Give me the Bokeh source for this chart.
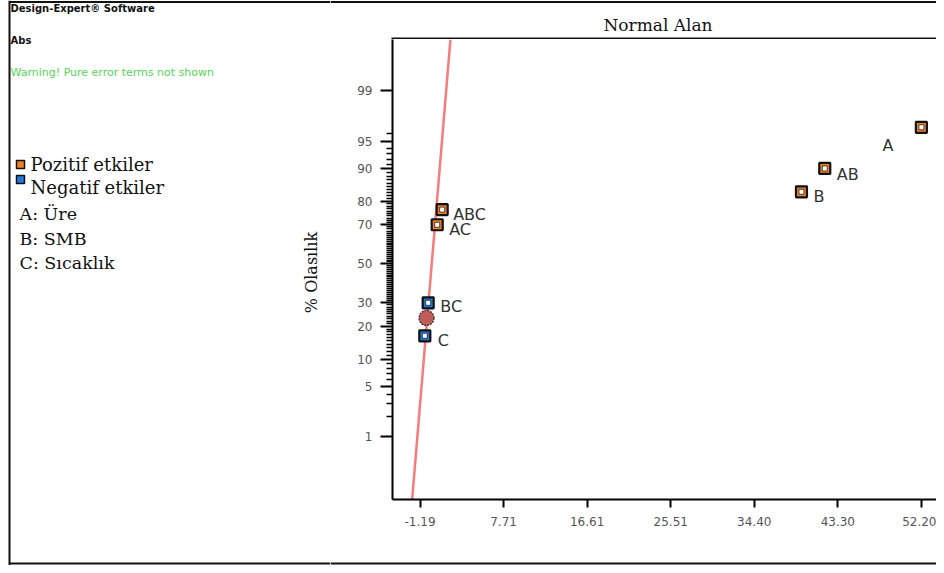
from statistics import NormalDist
import math
from bokeh.plotting import figure
from bokeh.layouts import row, column
from bokeh.models import (FixedTicker, CustomJSTickFormatter, PrintfTickFormatter, Range1d,
                          ColumnDataSource)
from bokeh.core.properties import value
from bokeh.embed import file_html
from bokeh.resources import INLINE

# ---------------- data ----------------
effect_names = ["A", "AB", "B", "ABC", "AC", "BC", "C"]
effect_values = [52.20, 41.91, 39.43, 1.17, 0.64, -0.32, -0.68]
effect_pct = [96.67, 90.0, 83.33, 76.67, 70.0, 30.0, 16.67]
effect_sign = ["pos", "pos", "pos", "pos", "pos", "neg", "neg"]
error_values = [-0.50]
error_pct = [23.33]
line_center = 0.06
line_spread = 0.66
x_tick_values = [-1.19, 7.71, 16.61, 25.51, 34.40, 43.30, 52.20]
y_tick_pct = [1, 5, 10, 20, 30, 50, 70, 80, 90, 95, 99]
y_minor_pct = [v for v in range(2, 97) if v not in y_tick_pct]
x_limits = [-4.12, 53.81]
y_limits_pct = [0.077, 99.871]
title_text = "Normal Alan"
y_label_text = "% Olasılık"
header_texts = ["Design-Expert® Software", "Abs", "Warning! Pure error terms not shown"]
legend_texts = ["Pozitif etkiler", "Negatif etkiler"]
factor_texts = ["A: Üre", "B: SMB", "C: Sıcaklık"]

# ---------------- styles / layout ----------------
ORANGE = "#f58220"
BLUE = "#1f7ae0"
INK = "#111111"
TOTAL_W, TOTAL_H = 936, 565
LEFT_W = 330          # width of the left text panel
TOP_H = 39            # height of the top strip (title)
FRAME_L = 392         # absolute x of plot frame left
FRAME_B = 499         # absolute y of plot frame bottom
MAIN_BOTTOM = 539     # absolute y where the main plot ends
MAIN_W = TOTAL_W - LEFT_W
MAIN_H = MAIN_BOTTOM - TOP_H
BOT_H = TOTAL_H - MAIN_BOTTOM
label_dx = [-39, 12, 12, 11, 12, 12, 13]
label_dy = [18, 6, 5, 5, 5, 4, 5]

nd = NormalDist()
def z_of(p):
    return nd.inv_cdf(p / 100.0)

effect_z = [z_of(v) for v in effect_pct]
error_z = [z_of(v) for v in error_pct]
z_lo, z_hi = z_of(y_limits_pct[0]), z_of(y_limits_pct[1])


def blank(w, h, x0, x1, y0, y1):
    f = figure(width=w, height=h, output_backend="svg", toolbar_location=None,
               x_range=Range1d(x0, x1), y_range=Range1d(y0, y1),
               x_axis_type=None, y_axis_type=None,
               min_border_left=0, min_border_right=0, min_border_top=0, min_border_bottom=0,
               outline_line_color=None, background_fill_color="white",
               border_fill_color="white", frame_align=False)
    f.grid.visible = False
    return f


def put_text(f, t, x, y, font, size, color=INK, style="normal", align="left", angle=0.0):
    f.text(x=[x], y=[y], text=[t], text_font=value(font), text_font_size=value(size),
           text_color=color, text_font_style=value(style), text_align=value(align),
           text_baseline=value("middle"), angle=angle)


# ---------------- left panel (header, legend, y label) ----------------
left = blank(LEFT_W, TOTAL_H, 0, LEFT_W, TOTAL_H, 0)
left.line(x=[9, 9], y=[0, TOTAL_H], line_color=INK, line_width=2)
left.line(x=[9, LEFT_W], y=[1.5, 1.5], line_color=INK, line_width=2)
left.line(x=[9, LEFT_W], y=[TOTAL_H - 2, TOTAL_H - 2], line_color=INK, line_width=2)

put_text(left, header_texts[0], 10, 8, "DejaVu Sans", "10px", "#111111", "bold")
put_text(left, header_texts[1], 10, 40, "DejaVu Sans", "10px", "#111111", "bold")
put_text(left, header_texts[2], 10, 72, "DejaVu Sans", "11px", "#55d655")

left.scatter(x=[20, 20], y=[164, 179], marker="square", size=8,
             fill_color=[ORANGE, BLUE], line_color=INK, line_width=1.5)
put_text(left, legend_texts[0], 30, 164, "DejaVu Serif", "18px")
put_text(left, legend_texts[1], 30, 187, "DejaVu Serif", "18px")
for t, cy in zip(factor_texts, [213, 238, 262]):
    put_text(left, t, 19, cy, "DejaVu Serif", "17.5px")

put_text(left, y_label_text, 310.5, 272, "DejaVu Serif", "16px", align="center",
         angle=math.pi / 2)

# ---------------- top strip (border + title + frame top) ----------------
top = blank(MAIN_W, TOP_H, LEFT_W, TOTAL_W, TOP_H, 0)
top.line(x=[LEFT_W, TOTAL_W], y=[1.5, 1.5], line_color=INK, line_width=2)
top.line(x=[FRAME_L - 1, TOTAL_W], y=[38, 38], line_color=INK, line_width=2)
put_text(top, title_text, 657.5, 24, "DejaVu Serif", "17px", align="center")

# ---------------- bottom strip (outer border) ----------------
bottom = blank(MAIN_W, BOT_H, LEFT_W, TOTAL_W, TOTAL_H, MAIN_BOTTOM)
bottom.line(x=[LEFT_W, TOTAL_W], y=[TOTAL_H - 2, TOTAL_H - 2], line_color=INK, line_width=2)

# ---------------- main normal-probability plot ----------------
p = figure(width=MAIN_W, height=MAIN_H, output_backend="svg", toolbar_location=None,
           x_range=Range1d(*x_limits), y_range=Range1d(z_lo, z_hi),
           min_border_left=FRAME_L - LEFT_W, min_border_right=0, min_border_top=0,
           min_border_bottom=MAIN_BOTTOM - FRAME_B, outline_line_color=None,
           background_fill_color="white", border_fill_color="white", frame_align=False)
p.xgrid.visible = False
p.ygrid.visible = False

xa = p.xaxis[0]
xa.ticker = FixedTicker(ticks=x_tick_values, minor_ticks=[])
xa.formatter = PrintfTickFormatter(format="%.2f")
xa.major_tick_out = 8
xa.major_tick_in = 0
xa.minor_tick_out = 0
xa.minor_tick_in = 0
xa.axis_line_width = 2
xa.major_tick_line_width = 2
xa.major_label_standoff = 9
xa.major_label_text_font = "DejaVu Sans"
xa.major_label_text_font_size = "12px"
xa.major_label_text_color = "#555555"

z_major = [z_of(v) for v in y_tick_pct]
z_minor = [z_of(v) for v in y_minor_pct]
ya = p.yaxis[0]
ya.ticker = FixedTicker(ticks=z_major, minor_ticks=z_minor)
ya.formatter = CustomJSTickFormatter(
    args=dict(zs=z_major, labs=[str(v) for v in y_tick_pct]),
    code="""
    for (let i = 0; i < zs.length; i++) {
        if (Math.abs(tick - zs[i]) < 1e-6) { return labs[i]; }
    }
    return "";
    """)
ya.major_tick_out = 12
ya.major_tick_in = 0
ya.minor_tick_out = 6
ya.minor_tick_in = 0
ya.axis_line_width = 2
ya.major_tick_line_width = 2
ya.minor_tick_line_width = 1.5
ya.major_label_standoff = 8
ya.major_label_text_font = "DejaVu Sans"
ya.major_label_text_font_size = "12px"
ya.major_label_text_color = "#555555"

# fitted normal line
line_x = [line_center + line_spread * z_lo, line_center + line_spread * z_hi]
p.line(x=line_x, y=[z_lo, z_hi], line_color="#f77b7b", line_width=2.5)

# error term point
p.scatter(x=error_values, y=error_z, marker="circle", size=15,
          fill_color="#bd5e5b", line_color="#3a2222", line_width=1.2, line_dash="2 1")

# effect points
colors = [ORANGE if s == "pos" else BLUE for s in effect_sign]
src = ColumnDataSource(dict(x=effect_values, y=effect_z, c=colors, name=effect_names,
                            dx=label_dx, dy=label_dy))
p.scatter(x="x", y="y", source=src, marker="square", size=11, fill_color="c",
          line_color=INK, line_width=2.2)
p.scatter(x="x", y="y", source=src, marker="square", size=5, fill_color="white",
          line_color="#222222", line_width=0.8)
p.text(x="x", y="y", text="name", source=src, x_offset="dx", y_offset="dy",
       text_font=value("DejaVu Sans"), text_font_size=value("16px"), text_color="#333333",
       text_align=value("left"), text_baseline=value("middle"))

layout = row(left, column(top, p, bottom, spacing=0), spacing=0)

open("out.html", "w").write(file_html(layout, INLINE))
